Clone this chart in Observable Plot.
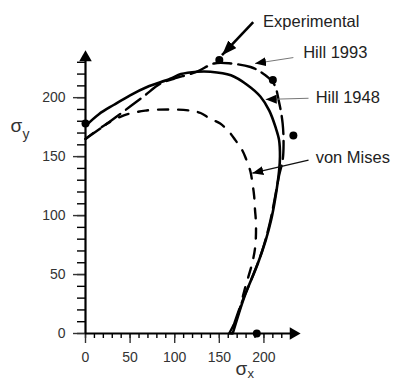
<!DOCTYPE html>
<html><head><meta charset="utf-8">
<script src="https://cdn.jsdelivr.net/npm/d3@7"></script>
<script src="https://cdn.jsdelivr.net/npm/@observablehq/plot@0.6"></script>
<style>body{margin:0;background:#fff} svg{display:block}</style>
</head><body><div id="chart"></div>
<script>
// Hill 1948 (solid)
const hill1948 = [[0,176],[15,186],[32,194],[50,202],[69,209],[95,216],[107,220],[125,222],[140,222],[163,219],[181,211],[196,201],[206,189],[213,175],[217,164],[218,150],[217,138],[213,116],[208,96],[202,79],[193,59],[178,31],[165,0]];
// Hill 1993 (long dash)
const hill1993 = [[0,165],[17,174],[35,184],[65,201],[84,212],[99,216],[125,222],[144,229],[163,229],[185,226],[196,222],[211,212],[217,196],[221,178],[222,160],[221,147],[217,134],[213,118],[207,95],[198,70],[186,46],[174,24],[163,0]];
// von Mises (short dash)
const vonMises = [[0,165],[20,176],[43,185],[67,189],[95,190],[118,189],[129,187],[140,182],[151,178],[161,171],[168,164],[176,155],[180,148],[185,137],[187,128],[189,117],[190,105],[191,95],[191,82],[190,72],[187,60],[179,39],[170,14],[161,0]];
// Experimental points
const experimental = [[0,178],[150,232],[210,215],[233,168],[192,0]];

const majorTicks = [0,50,100,150,200];
const minorTicks = [0,10,20,30,40,50,60,70,80,90,100,110,120,130,140,150,160,170,180,190,200,210,220,230];

const labelNames = ["Experimental","Hill 1993","Hill 1948","von Mises"];
const labelX = [199,244,258,258];
const labelY = [264,238,200,149];
const arrowFromX = [188,233,250,250];
const arrowFromY = [264,234,199.5,147];
const arrowToX = [153,190,202,187];
const arrowToY = [236,229,198.5,136];
const arrowStroke = ["#000","#777","#777","#111"];
const arrowWidth = [2.6,1,1,1.4];

const pts = a => a.map(([x,y]) => ({x,y}));
const annotations = labelNames.map((t,i) => ({t, lx:labelX[i], ly:labelY[i], x1:arrowFromX[i], y1:arrowFromY[i], x2:arrowToX[i], y2:arrowToY[i], s:arrowStroke[i], w:arrowWidth[i]}));
const axisHeads = [{x:233,y:0,r:90},{x:0,y:234,r:0}];

const chart = Plot.plot({
  width:393, height:382,
  marginLeft:85, marginRight:93, marginTop:50, marginBottom:49,
  x:{domain:[0,241]}, y:{domain:[0,240]},
  style:{fontFamily:"'Liberation Sans', Arial, sans-serif", fontSize:"14px", background:"#fff", color:"#000", overflow:"visible"},
  marks:[
    Plot.axisY(minorTicks, {tickSize:8, tickFormat:()=>"", label:null, strokeWidth:1.4}),
    Plot.axisY(majorTicks, {tickSize:12, tickPadding:8, label:null, strokeWidth:1.4, fontSize:14, color:"#333"}),
    Plot.axisX(minorTicks, {tickSize:5, tickFormat:()=>"", label:null, strokeWidth:1.4}),
    Plot.axisX(majorTicks, {tickSize:10, tickPadding:9, label:null, strokeWidth:1.4, fontSize:14, color:"#333"}),
    Plot.ruleY([0], {x1:0, x2:234, strokeWidth:2.2}),
    Plot.ruleX([0], {y1:0, y2:234, strokeWidth:2.2}),
    Plot.dot(axisHeads, {x:"x", y:"y", rotate:"r", symbol:"triangle2", r:6, fill:"#000", stroke:null}),
    Plot.line(pts(vonMises), {x:"x", y:"y", curve:"catmull-rom", stroke:"#000", strokeWidth:2.4, strokeDasharray:"10,10"}),
    Plot.line(pts(hill1993), {x:"x", y:"y", curve:"catmull-rom", stroke:"#000", strokeWidth:2.4, strokeDasharray:"18,7"}),
    Plot.line(pts(hill1948), {x:"x", y:"y", curve:"catmull-rom", stroke:"#000", strokeWidth:2.6}),
    Plot.dot(pts(experimental), {x:"x", y:"y", r:4, fill:"#000", stroke:null}),
    Plot.link(annotations, {x1:"x1", y1:"y1", x2:"x2", y2:"y2", stroke:"s", strokeWidth:"w"}),
    Plot.text(annotations, {x:"lx", y:"ly", text:"t", textAnchor:"start", fontSize:16.5, fill:"#222"}),
    Plot.text(["σ"], {frameAnchor:"top-left", dx:-75, dy:68, fontSize:19, fill:"#333", textAnchor:"start"}),
    Plot.text(["y"], {frameAnchor:"top-left", dx:-63, dy:79, fontSize:14, fill:"#333", textAnchor:"start"}),
    Plot.text(["σ"], {frameAnchor:"bottom-left", dx:150, dy:41, fontSize:19, fill:"#333", textAnchor:"start"}),
    Plot.text(["x"], {frameAnchor:"bottom-left", dx:162, dy:44, fontSize:13, fill:"#333", textAnchor:"start"})
  ]
});
document.getElementById("chart").appendChild(chart);

// filled arrowheads on the annotation links
const svg = d3.select(chart);
const defs = svg.insert("defs", ":first-child");
const mk = (id, len, wid) => defs.append("marker").attr("id", id)
  .attr("markerUnits","userSpaceOnUse").attr("markerWidth", len).attr("markerHeight", wid)
  .attr("refX", len).attr("refY", wid/2).attr("orient","auto")
  .append("path").attr("d", `M0,0L${len},${wid/2}L0,${wid}Z`).attr("fill","#000");
mk("ahBig", 15, 11);
mk("ahSmall", 11, 9);
svg.selectAll('g[aria-label="link"] path').each(function(d, i) {
  d3.select(this).attr("marker-end", i === 0 ? "url(#ahBig)" : "url(#ahSmall)");
});
</script></body></html>
